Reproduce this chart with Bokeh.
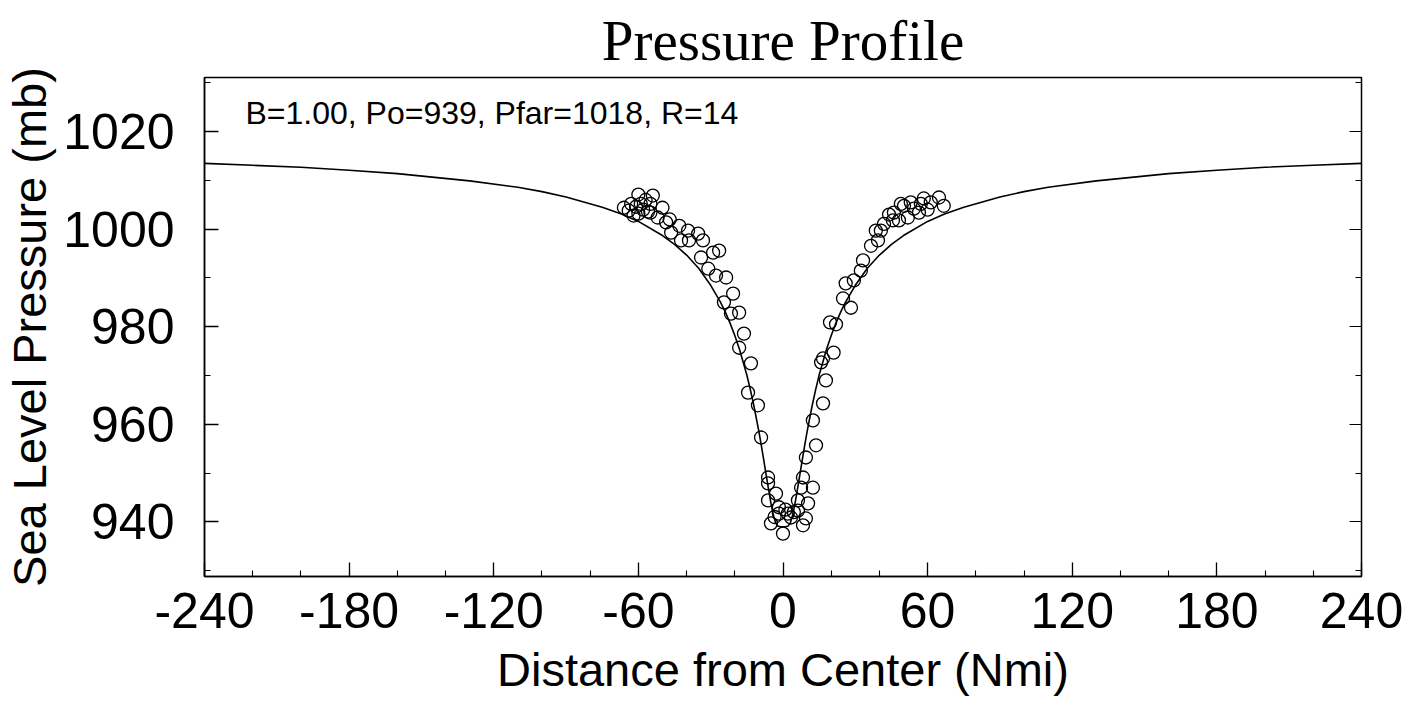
from bokeh.plotting import figure
from bokeh.models import Range1d, LinearAxis, Label, FixedTicker
from bokeh.embed import file_html
from bokeh.resources import INLINE

# ---------------- data ----------------
x_ticks = [-240, -180, -120, -60, 0, 60, 120, 180, 240]
x_tick_labels = ["-240", "-180", "-120", "-60", "0", "60", "120", "180", "240"]
y_ticks = [940, 960, 980, 1000, 1020]

# fitted profile line
curve_x = [-240, -220, -200, -180, -160, -130, -110, -100, -90, -75, -67, -60, -50, -45, -40, -35,
           -30, -26, -24, -22, -20, -18, -15, -13.5, -12, -10, -9, -8, -7, -6, -5, -4, -3, -2, -1,
           0, 1, 2, 3, 4, 5, 6, 7, 8, 9, 10, 12, 13.5, 15, 18, 20, 22, 24, 26, 30, 35, 40, 45, 50,
           60, 67, 75, 90, 100, 110, 130, 160, 180, 200, 220, 240]
curve_y = [1013.5, 1013.1, 1012.7, 1012.1, 1011.4, 1009.9, 1008.6, 1007.7, 1006.6, 1004.5, 1003.1,
           1001.6, 998.7, 996.9, 994.7, 992.0, 988.5, 985.1, 983.1, 980.8, 978.2, 975.3, 970.1,
           967.0, 963.6, 958.5, 955.7, 952.7, 949.7, 946.7, 943.8, 941.4, 939.7, 939.1, 939.0,
           939.0, 939.0, 939.1, 939.7, 941.4, 943.8, 946.7, 949.7, 952.7, 955.7, 958.5, 963.6,
           967.0, 970.1, 975.3, 978.2, 980.8, 983.1, 985.1, 988.5, 992.0, 994.7, 996.9, 998.7,
           1001.6, 1003.1, 1004.5, 1006.6, 1007.7, 1008.6, 1009.9, 1011.4, 1012.1, 1012.7,
           1013.1, 1013.5]

# observations (open circles)
obs_x = [-66, -60, -54, -63, -59, -55, -50, -60, -55, -62, -52, -48.5, -46.4, -43, -42.3, -39.4,
         -39, -35.2, -33.2, -29, -26.5, -34, -31, -27.8, -23.6, -24.5, -20.7, -21.6, -18.2, -16.2,
         -18.2, -13.3, -57, -64, -47, -14.5, -10.4, -9.1, -6.2, -6.2, -6.2, -2.9, -1.7, -5, 0,
         2, 3.3, 6.2, 8.3, 9.5, 6.2, 10.4, 12.4, 7.5, 8.3, 9.5, 13.7, 12.4, 16.6, 17.8, 15.8,
         -1.7, 1, 4.5, -3.5, 16.6, 21, 19.5, 22, 24.9, 26, 28.2, 29.4, 32.3, 33.2, 36.5, 38.5,
         39.4, 40.6, 41.9, 45.6, 46, 50.2, 48.9, 51.8, 56.4, 57.2, 61.3, 64.7, 66.7, 58.4, 54.3,
         48.1, 53, 60, 44, -58, -61, -56]
obs_y = [1004.4, 1007.1, 1006.9, 1005.2, 1005.2, 1005.2, 1004.4, 1003.2, 1003.4, 1002.8, 1002.4,
         1001.4, 999.3, 1000.7, 997.7, 999.7, 997.7, 999.1, 997.7, 995.2, 995.6, 994.2, 991.9,
         990.5, 990.1, 985.0, 986.8, 982.7, 982.9, 978.6, 975.7, 972.5, 1006.0, 1003.8, 1002.0,
         966.5, 963.9, 957.3, 949.1, 947.9, 944.4, 945.8, 943.0, 939.7, 937.6, 941.7, 940.9,
         942.3, 939.3, 940.7, 944.4, 943.8, 947.0, 947.0, 949.1, 953.2, 955.7, 960.8, 964.3,
         969.0, 972.7, 941.7, 942.5, 942.0, 941.0, 973.5, 974.7, 980.9, 980.5, 985.8, 988.9,
         983.9, 989.5, 991.5, 993.6, 996.6, 999.7, 997.7, 999.7, 1001.1, 1001.8, 1003.4, 1004.8,
         1005.2, 1002.4, 1003.4, 1005.2, 1005.5, 1006.5, 1004.8, 1006.3, 1004.2, 1001.8, 1005.5,
         1004.0, 1003.0, 1004.0, 1004.6, 1003.6]

title_text = "Pressure Profile"
annotation = "B=1.00, Po=939, Pfar=1018, R=14"
X_START, X_END = -240, 240
Y_START, Y_END = 928.8, 1031.1

SANS = "Liberation Sans"

p = figure(width=1412, height=709, output_backend="svg", toolbar_location=None,
           x_range=Range1d(X_START, X_END), y_range=Range1d(Y_START, Y_END),
           min_border_left=203, min_border_right=51, min_border_top=77, min_border_bottom=133,
           title=title_text)
p.background_fill_color = "white"
p.border_fill_color = "white"
p.outline_line_color = "black"
p.outline_line_width = 1.5
p.xgrid.visible = False
p.ygrid.visible = False

p.title.align = "center"
p.title.text_font = "Liberation Serif"
p.title.text_font_size = "57px"
p.title.text_font_style = "normal"
p.title.text_color = "black"
p.title.standoff = 11

xa = p.xaxis[0]
xa.ticker = FixedTicker(ticks=x_ticks, minor_ticks=list(range(-240, 241, 20)))
xa.major_label_overrides = {t: s for t, s in zip(x_ticks, x_tick_labels)}
xa.axis_label = "Distance from Center (Nmi)"
ya = p.yaxis[0]
ya.ticker = FixedTicker(ticks=y_ticks, minor_ticks=list(range(930, 1031, 10)))
ya.axis_label = "Sea Level Pressure (mb)"

for ax in (xa, ya):
    ax.major_label_text_font = SANS
    ax.major_label_text_font_size = "50px"
    ax.major_label_text_color = "black"
    ax.axis_label_text_font = SANS
    ax.axis_label_text_font_size = "47px"
    ax.axis_label_text_font_style = "normal"
    ax.axis_label_text_color = "black"
    ax.axis_line_color = "black"
    ax.axis_line_width = 1.5
    ax.major_tick_in = 14
    ax.major_tick_out = 0
    ax.minor_tick_in = 6
    ax.minor_tick_out = 0
    ax.major_tick_line_color = "black"
    ax.minor_tick_line_color = "black"
    ax.major_tick_line_width = 1.3
    ax.minor_tick_line_width = 1.1

xa.major_label_standoff = 16
xa.axis_label_standoff = 12
ya.major_label_standoff = 30
ya.axis_label_standoff = 4

ra = LinearAxis(ticker=FixedTicker(ticks=y_ticks, minor_ticks=list(range(930, 1031, 10))))
ra.major_label_overrides = {t: "" for t in y_ticks}
ra.major_tick_in = 12
ra.major_tick_out = 0
ra.minor_tick_in = 6
ra.minor_tick_out = 0
ra.axis_line_color = "black"
ra.major_tick_line_color = "black"
ra.minor_tick_line_color = "black"
p.add_layout(ra, "right")

p.line(curve_x, curve_y, line_color="black", line_width=1.6)
p.scatter(obs_x, obs_y, marker="circle", size=13, fill_color=None,
          line_color="black", line_width=1.3)

p.add_layout(Label(x=X_START + 17, y=Y_END - 3.6, text=annotation, text_font=SANS,
                   text_font_size="32px", text_color="black", text_baseline="top",
                   text_align="left"))

open("out.html", "w").write(file_html(p, INLINE))
